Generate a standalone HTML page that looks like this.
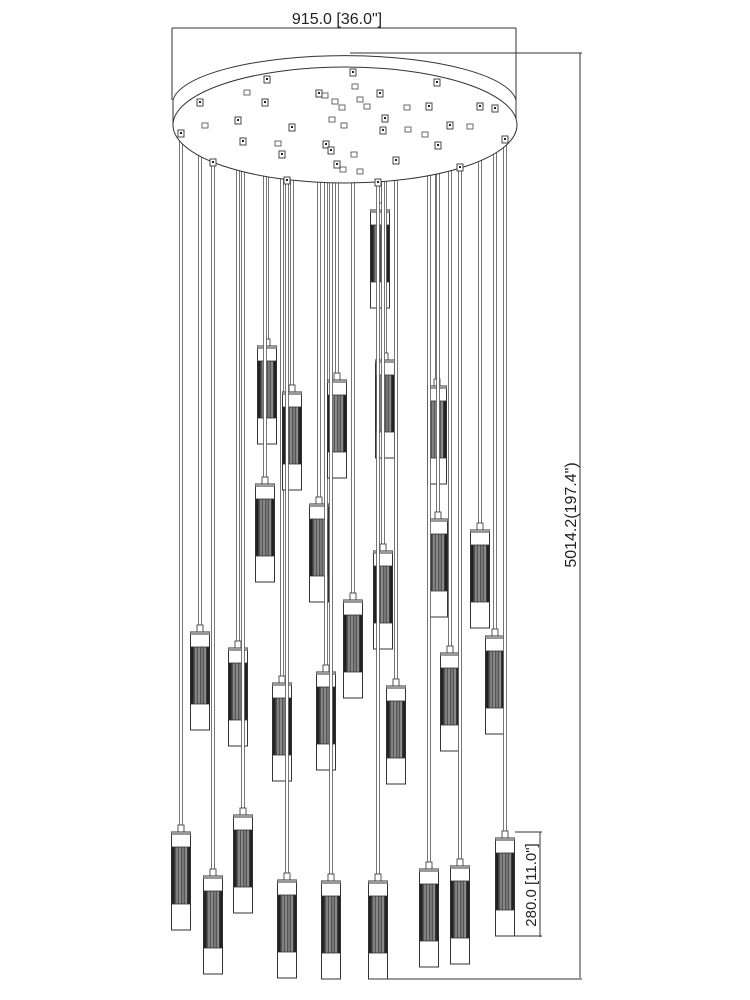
<!DOCTYPE html>
<html><head><meta charset="utf-8"><style>
html,body{margin:0;padding:0;background:#fff;width:750px;height:1000px;overflow:hidden}
svg{display:block}
text{font-family:"Liberation Sans",sans-serif;fill:#222}
</style></head><body>
<svg id="s" width="750" height="1000" viewBox="0 0 750 1000" xmlns="http://www.w3.org/2000/svg">
<defs>
<pattern id="rib" width="19" height="10" patternUnits="userSpaceOnUse">
<rect width="19" height="10" fill="#555"/>
<rect x="0" width="3" height="10" fill="#222"/>
<rect x="5" width="1" height="10" fill="#aaa"/>
<rect x="8" width="1" height="10" fill="#bbb"/>
<rect x="11" width="1" height="10" fill="#999"/>
<rect x="14" width="1" height="10" fill="#bbb"/>
<rect x="16" width="3" height="10" fill="#222"/>
</pattern>
</defs>
<g id="g"></g>
<g fill="none" stroke="#333" stroke-width="1">
<path d="M173,100 A172,48 0 0 1 516,100 L516,126 M173,100 L173,126"/>
<ellipse cx="345" cy="125" rx="172" ry="58" fill="#fff"/>
</g>
<g id="c"></g>
<g stroke="#333" stroke-width="1" fill="none">
<line x1="172" y1="28" x2="516" y2="28"/>
<line x1="172" y1="28" x2="172" y2="100"/>
<line x1="516" y1="28" x2="516" y2="100"/>
<line x1="350" y1="53" x2="582" y2="53"/>
<line x1="580" y1="53" x2="580" y2="978"/>
<line x1="385" y1="979" x2="582" y2="979"/>
<line x1="515" y1="832" x2="542" y2="832"/>
<line x1="540" y1="832" x2="540" y2="937"/>
<line x1="515" y1="936" x2="542" y2="936"/>
</g>
<text x="337" y="24" font-size="16" text-anchor="middle">915.0 [36.0"]</text>
<text transform="translate(576,515) rotate(-90)" font-size="16" text-anchor="middle">5014.2(197.4")</text>
<text transform="translate(536,885) rotate(-90)" font-size="15" text-anchor="middle">280.0 [11.0"]</text>
</svg>
<script>
var P=[[181,133,832],[200,102,632],[213,162,876],[238,120,648],[243,141,815],[267,79,346],[265,102,484],[282,154,683],[292,127,392],[287,180,880],[319,93,504],[326,144,672],[337,164,380],[331,150,881],[353,72,600],[380,93,210],[385,118,360],[383,130,551],[378,182,881],[396,160,686],[437,82,386],[438,145,519],[429,106,869],[450,125,653],[460,167,866],[480,106,530],[495,108,636],[505,139,838]];
var h='',c='',n=[[247,93],[205,126],[355,87],[335,102],[342,108],[360,100],[344,126],[332,120],[367,107],[407,108],[408,130],[425,135],[354,155],[343,170],[360,172],[278,144],[325,96],[470,127]];
n.forEach(function(q){c+='<rect x="'+(q[0]-3)+'" y="'+(q[1]-3)+'" width="6" height="5" fill="#fff" stroke="#444" stroke-width="0.8"/>';});
P.forEach(function(p){var x=p[0],t=p[1],b=p[2];
h+='<rect x="'+(x-1.5)+'" y="'+t+'" width="3" height="'+(b-7-t)+'" fill="#fff" stroke="#555" stroke-width="0.8"/>';
c+='<rect x="'+(x-3)+'" y="'+(t-3)+'" width="6" height="7" fill="#fff" stroke="#333" stroke-width="0.9"/><rect x="'+(x-1)+'" y="'+(t-1)+'" width="2" height="2" fill="#222"/>';
h+='<rect x="'+(x-3)+'" y="'+(b-7)+'" width="6" height="7" fill="#fff" stroke="#444" stroke-width="0.9"/>';
h+='<rect x="'+(x-9.5)+'" y="'+b+'" width="19" height="98" fill="#fff" stroke="#333" stroke-width="1"/>';
h+='<rect x="'+(x-9.5)+'" y="'+b+'" width="19" height="3" fill="#999"/>';
h+='<g transform="translate('+(x-9.5)+','+(b+15)+')"><rect width="19" height="57" fill="url(#rib)" stroke="#333" stroke-width="0.8"/></g>';
});
document.getElementById('g').innerHTML=h;document.getElementById('c').innerHTML=c;
</script>
</body></html>
